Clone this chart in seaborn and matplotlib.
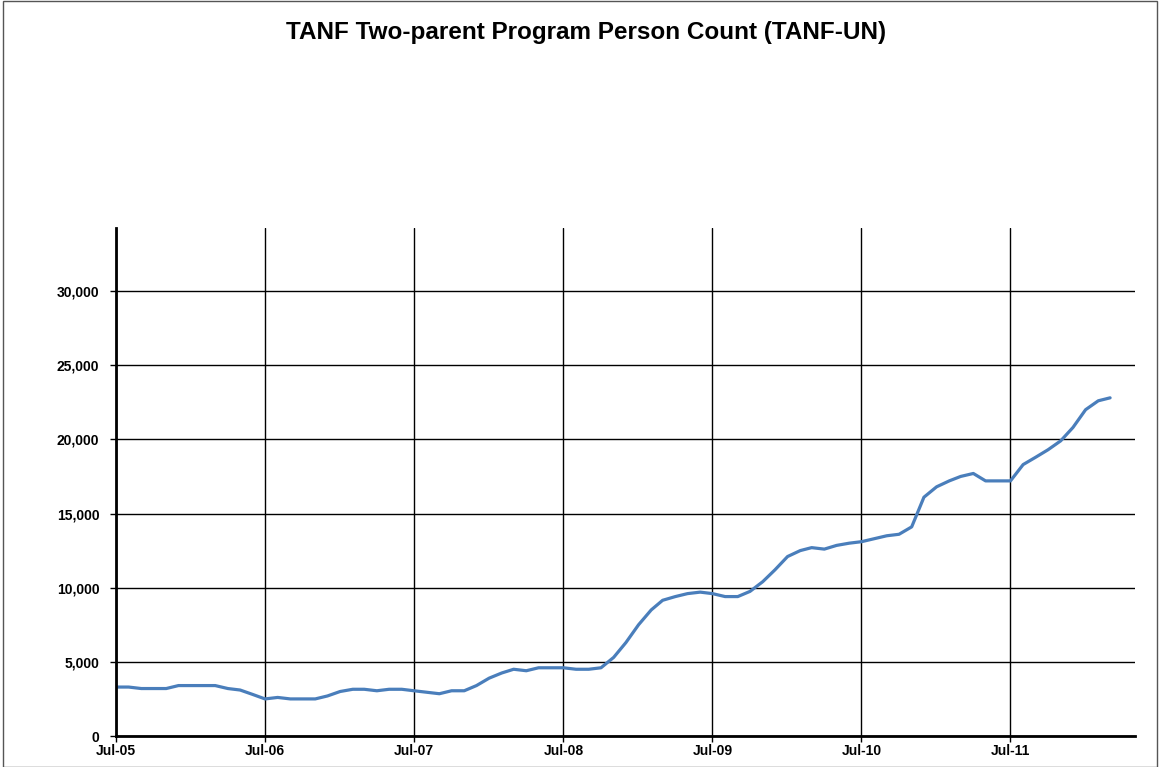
import matplotlib
matplotlib.use("Agg")
import matplotlib.pyplot as plt
import matplotlib.dates as mdates
import matplotlib.ticker as mticker
from matplotlib.patches import Rectangle
import seaborn as sns
import pandas as pd

title = "TANF Two-parent Program Person Count (TANF-UN)"
start_month = "2005-07-01"
person_count = [
    3300, 3300, 3200, 3200, 3200, 3400, 3400, 3400, 3400, 3200, 3100, 2800,
    2500, 2600, 2500, 2500, 2500, 2700, 3000, 3150, 3150, 3050, 3150, 3150,
    3050, 2950, 2850, 3050, 3050, 3400, 3900, 4250, 4500, 4400, 4600, 4600,
    4600, 4500, 4500, 4600, 5300, 6300, 7500, 8500, 9150, 9400, 9600, 9700,
    9600, 9400, 9400, 9750, 10400, 11200, 12100, 12500, 12700, 12600, 12850, 13000,
    13100, 13300, 13500, 13600, 14100, 16100, 16800, 17200, 17500, 17700, 17200, 17200,
    17200, 18300, 18800, 19300, 19900, 20800, 22000, 22600, 22800,
]
x_tick_dates = ["2005-07-01", "2006-07-01", "2007-07-01", "2008-07-01",
                "2009-07-01", "2010-07-01", "2011-07-01"]
y_ticks = [0, 5000, 10000, 15000, 20000, 25000, 30000]

months = pd.date_range(start_month, periods=len(person_count), freq="MS")
df = pd.DataFrame({"month": months, "count": person_count})

sns.set_theme(style="white")
plt.rcParams["font.family"] = ["Liberation Sans", "DejaVu Sans"]

fig = plt.figure(figsize=(11.6, 7.67), dpi=100)
ax = fig.add_axes([116 / 1160, 1 - 736 / 767, (1135 - 116) / 1160, (736 - 228) / 767])

sns.lineplot(data=df, x="month", y="count", ax=ax, color="#4A7EBB", linewidth=2.3)

ax.set_xlim(pd.Timestamp("2005-07-01"), pd.Timestamp("2012-05-01"))
ax.set_ylim(0, 34250)
ax.set_xticks(pd.to_datetime(x_tick_dates))
ax.xaxis.set_major_formatter(mdates.DateFormatter("%b-%y"))
ax.set_yticks(y_ticks)
ax.yaxis.set_major_formatter(mticker.FuncFormatter(lambda v, p: f"{int(v):,}"))

ax.grid(True, color="black", linewidth=1.0)
ax.set_axisbelow(True)
for s in ["top", "right"]:
    ax.spines[s].set_visible(False)
for s in ["left", "bottom"]:
    ax.spines[s].set_color("black")
    ax.spines[s].set_linewidth(2.0)

ax.tick_params(axis="both", which="major", direction="out", length=4, width=1,
               color="black", labelsize=10, labelcolor="black", bottom=True, left=True)
ax.tick_params(axis="y", pad=8)
ax.tick_params(axis="x", pad=2)
for lab in ax.get_xticklabels() + ax.get_yticklabels():
    lab.set_fontweight("bold")
ax.set_xlabel("")
ax.set_ylabel("")

fig.text(586 / 1160, 1 - 32 / 767, title, ha="center", va="center",
         fontsize=17.5, fontweight="bold", color="black")

fig.patches.append(Rectangle((3 / 1160, 0.0), 1 - 6 / 1160, 1 - 1 / 767,
                             transform=fig.transFigure, fill=False,
                             edgecolor="#555555", linewidth=1.0))

fig.savefig("out.png", dpi=100, facecolor="white")
